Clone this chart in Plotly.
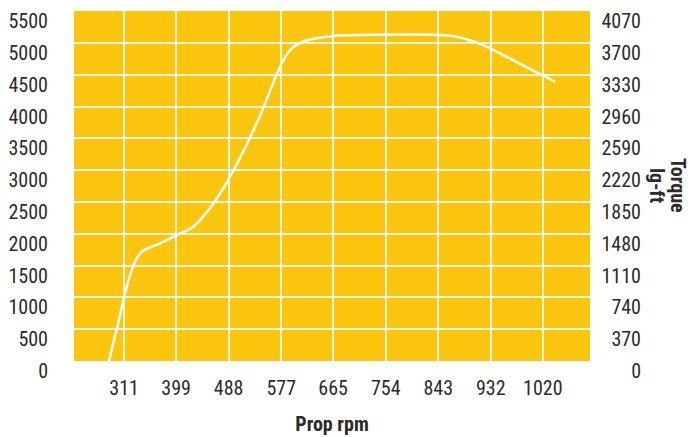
import plotly.graph_objects as go

# Data
rpm = [285, 300, 311, 328, 341, 372, 399, 428, 456, 487, 538, 575, 592, 614, 665, 749, 840, 874, 919, 975, 1041]
power = [0, 560, 1010, 1535, 1718, 1850, 1975, 2110, 2400, 2844, 3787, 4625, 4887, 5018, 5107, 5128, 5123, 5097, 4966, 4703, 4389]

x_ticks = [311, 399, 488, 577, 665, 754, 843, 932, 1020]
left_ticks = [0, 500, 1000, 1500, 2000, 2500, 3000, 3500, 4000, 4500, 5000, 5500]
right_ticks = [0, 370, 740, 1110, 1480, 1850, 2220, 2590, 2960, 3330, 3700, 4070]

FONT = "Liberation Sans Narrow, Roboto Condensed, Arial Narrow, Liberation Sans, sans-serif"
TXT = "#2b2b2b"
YELLOW = "#FCC60F"

W, H = 698, 437
L, R, T, B = 74, 30, 11, 76
pw = W - L - R
dom_end = (590 - L) / pw

fig = go.Figure()
fig.add_trace(go.Scatter(x=rpm, y=power, mode="lines",
                         line=dict(color="white", width=2.5, shape="spline", smoothing=0.8),
                         showlegend=False, hoverinfo="skip"))
# invisible trace for torque axis
fig.add_trace(go.Scatter(x=[rpm[0]], y=[0], yaxis="y2", mode="markers",
                         marker=dict(opacity=0), showlegend=False, hoverinfo="skip"))

top1 = 5501
top2 = top1 * 4070 / 5500

fig.update_layout(
    width=W, height=H,
    margin=dict(l=L, r=R, t=T, b=B, autoexpand=False),
    paper_bgcolor="white", plot_bgcolor=YELLOW,
    font=dict(family=FONT, color=TXT, size=20),
    xaxis=dict(domain=[0, dom_end], range=[226, 1100], tickvals=x_ticks,
               ticktext=[str(v) for v in x_ticks],
               showgrid=True, gridcolor="rgba(255,255,255,0.85)", gridwidth=1.5,
               zeroline=False, showline=False,
               ticks="outside", ticklen=9, tickcolor="rgba(0,0,0,0)",
               tickfont=dict(family=FONT, size=20, color=TXT),
               title=dict(text="<b>Prop rpm</b>", font=dict(family=FONT, size=20, color=TXT), standoff=17)),
    yaxis=dict(range=[0, top1], tickvals=left_ticks, ticktext=[str(v) for v in left_ticks],
               showgrid=True, gridcolor="rgba(255,255,255,0.85)", gridwidth=1.5,
               zeroline=False, showline=False,
               ticks="outside", ticklen=21, tickcolor="rgba(0,0,0,0)",
               ticklabelshift=10,
               tickfont=dict(family=FONT, size=20, color=TXT)),
    yaxis2=dict(overlaying="y", anchor="free", side="left",
                position=(641 - L) / pw,
                range=[0, top2], tickvals=right_ticks, ticktext=[str(v) for v in right_ticks],
                showgrid=False, zeroline=False, showline=False, ticks="",
                ticklabelshift=10,
                tickfont=dict(family=FONT, size=20, color=TXT)),
)

fig.add_annotation(text="<b>Torque</b>", xref="paper", yref="paper",
                   x=(678 - L) / pw, y=(361 - 185) / 350, textangle=90,
                   showarrow=False, font=dict(family=FONT, size=20, color=TXT),
                   xanchor="center", yanchor="middle")
fig.add_annotation(text="<b>lg-ft</b>", xref="paper", yref="paper",
                   x=(657 - L) / pw, y=(361 - 185) / 350, textangle=90,
                   showarrow=False, font=dict(family=FONT, size=20, color=TXT),
                   xanchor="center", yanchor="middle")

fig.write_html("out.html", config={"displayModeBar": False},
               post_script="document.body.style.margin='0';")
